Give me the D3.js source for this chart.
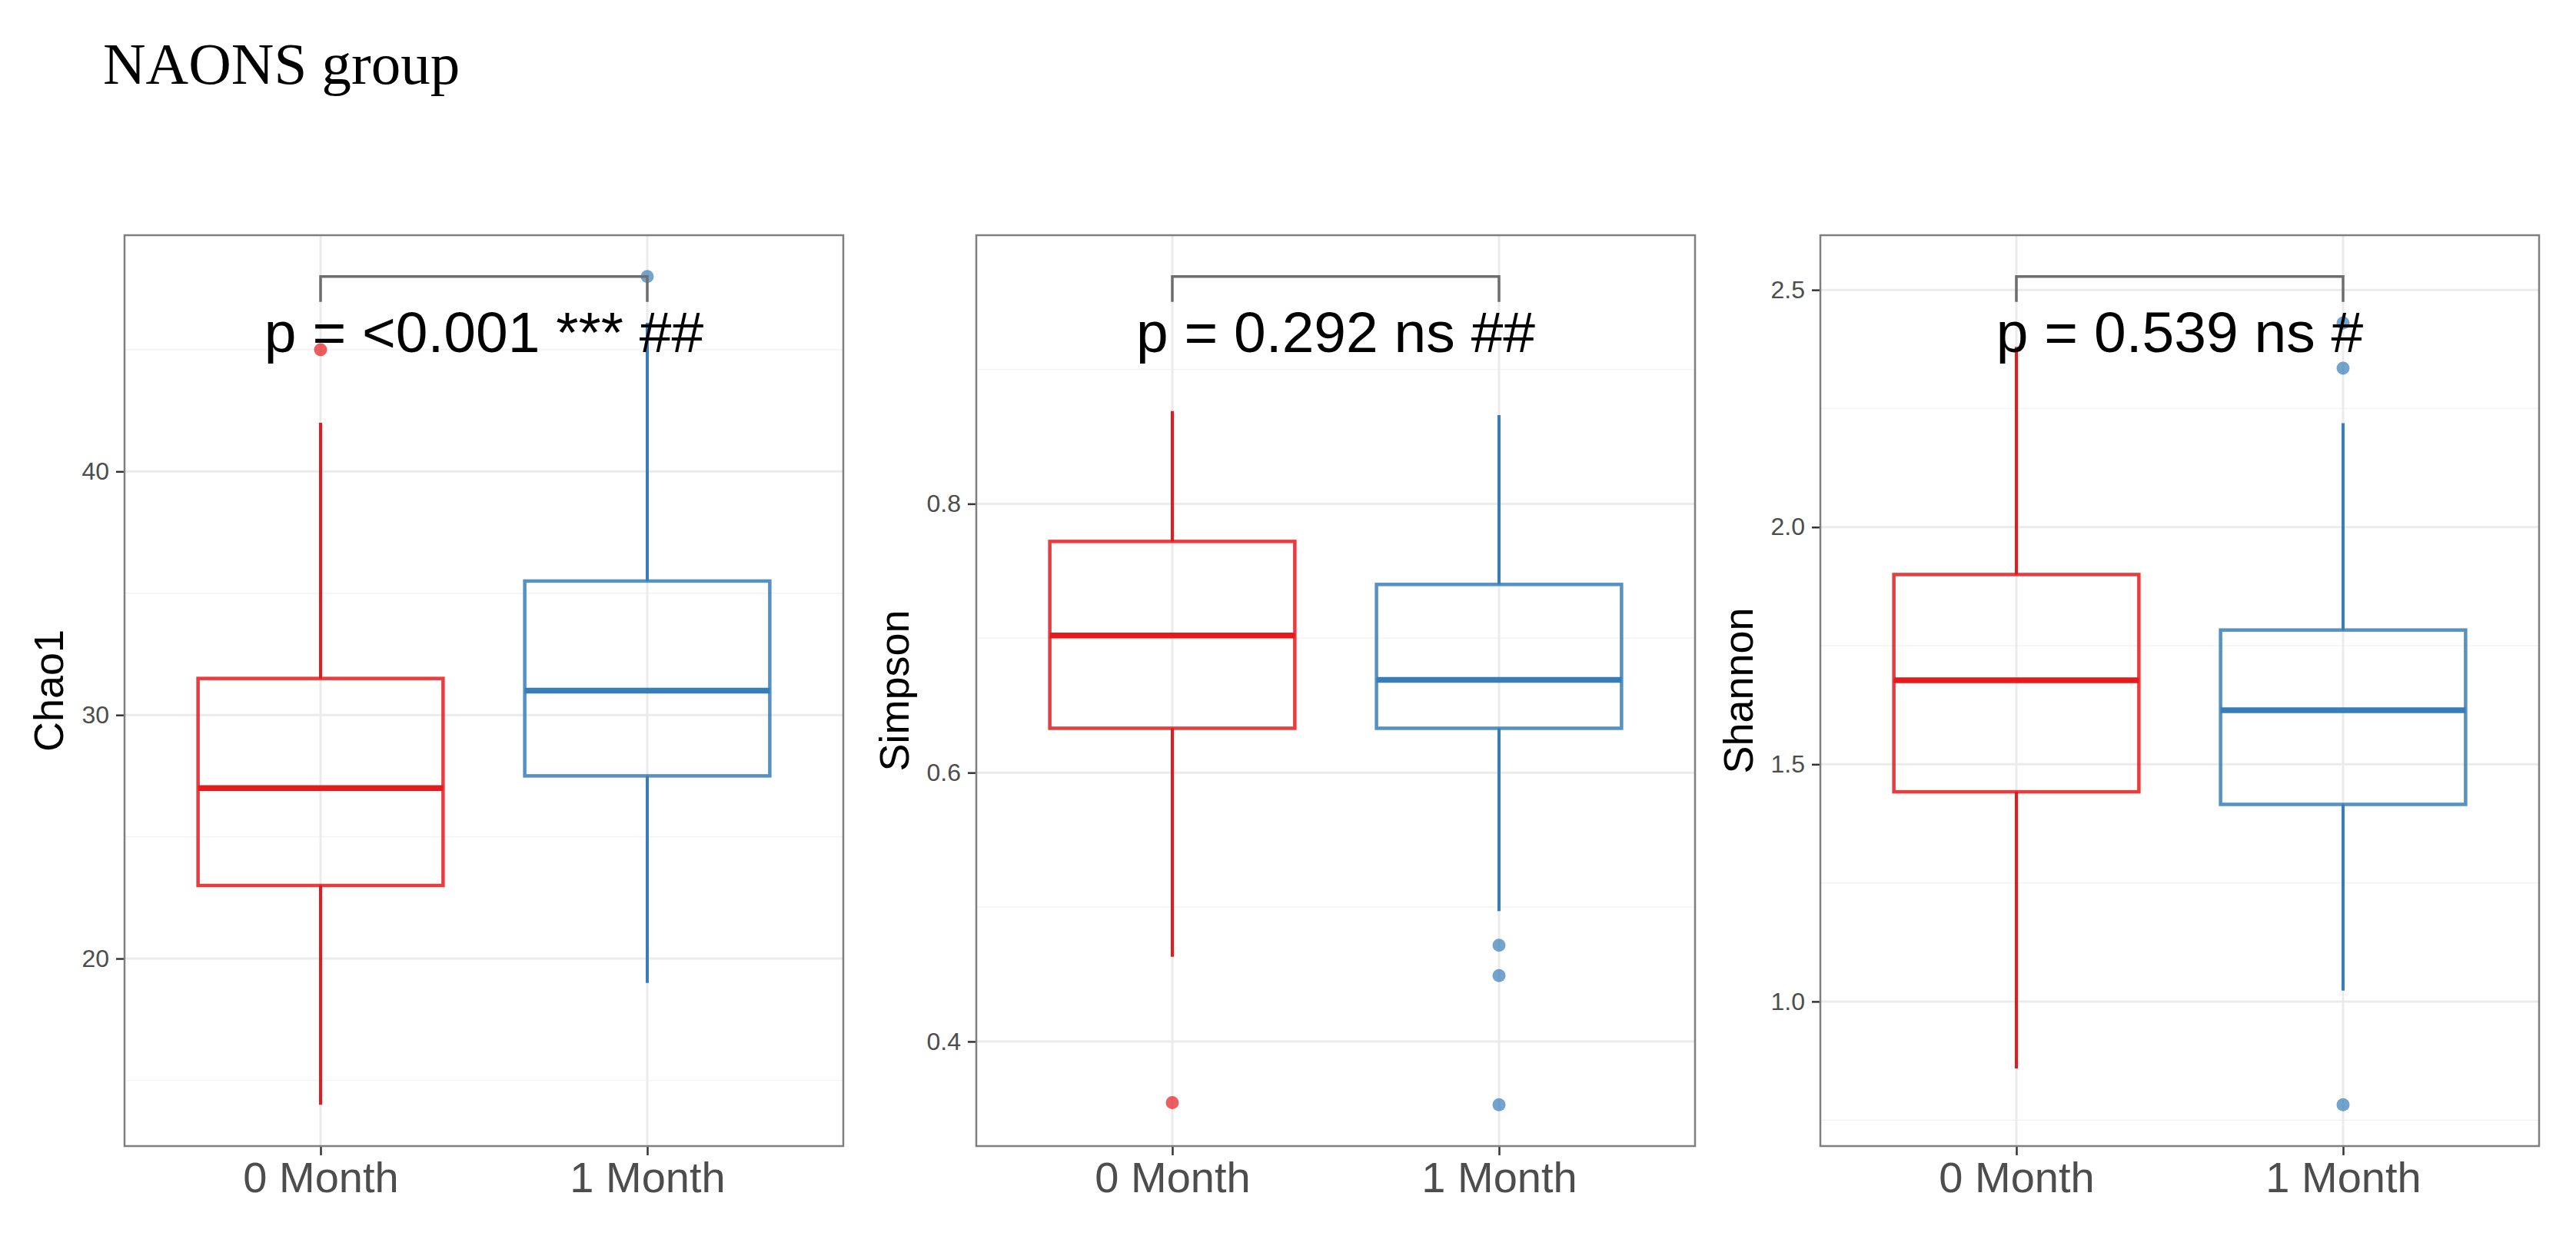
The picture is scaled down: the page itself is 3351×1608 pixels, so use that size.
<!DOCTYPE html>
<html>
<head>
<meta charset="utf-8">
<script src="https://cdn.jsdelivr.net/npm/d3@7"></script>
<style>
  body { margin: 0; background: #fff; }
  text { font-family: "Liberation Sans", Arial, Helvetica, sans-serif; }
</style>
</head>
<body>
<svg id="chart" width="3351" height="1608"></svg>
<script>
var groups = ["0 Month", "1 Month"];
var groupColors = ["#E41A1C", "#377EB8"];

// [lower whisker, Q1, median, Q3, upper whisker] per group
var chao1Stats = [[14, 23, 27, 31.5, 42], [19, 27.5, 31, 35.5, 46.1]];
var chao1Outliers = [[45], [48]];
var chao1Ticks = [20, 30, 40];
var chao1Minor = [15, 25, 35, 45];

var simpsonStats = [[0.463, 0.633, 0.702, 0.772, 0.869], [0.497, 0.633, 0.669, 0.740, 0.866]];
var simpsonOutliers = [[0.3545], [0.4716, 0.449, 0.353]];
var simpsonTicks = [0.4, 0.6, 0.8];
var simpsonMinor = [0.5, 0.7, 0.9];

var shannonStats = [[0.859, 1.442, 1.677, 1.90, 2.38], [1.023, 1.4155, 1.614, 1.783, 2.219]];
var shannonOutliers = [[], [2.43, 2.335, 0.7825]];
var shannonTicks = [1.0, 1.5, 2.0, 2.5];
var shannonMinor = [0.75, 1.25, 1.75, 2.25];

var yTitles = ["Chao1", "Simpson", "Shannon"];
var tickFormats = ["d", ".1f", ".1f"];
var bracketLevels = [48, 0.969, 2.528];
var pLabels = ["p = <0.001 *** ##", "p = 0.292 ns ##", "p = 0.539 ns #"];

var panels = [
  { stats: chao1Stats, outliers: chao1Outliers, ticks: chao1Ticks, minor: chao1Minor },
  { stats: simpsonStats, outliers: simpsonOutliers, ticks: simpsonTicks, minor: simpsonMinor },
  { stats: shannonStats, outliers: shannonOutliers, ticks: shannonTicks, minor: shannonMinor }
];

var panelLefts = [162, 1270, 2368]
  , panelTop = 306
  , panelW = 935
  , panelH = 1185;

var svg = d3.select("#chart");

svg.append("text")
  .attr("x", 134)
  .attr("y", 109)
  .style("font-family", "'Liberation Serif', 'DejaVu Serif', serif")
  .style("font-size", "77px")
  .attr("fill", "#000")
  .text("NAONS group");

panels.forEach(function(p, i) {
  var g = svg.append("g").attr("transform", "translate(" + panelLefts[i] + "," + panelTop + ")");

  var all = [bracketLevels[i]];
  p.stats.forEach(function(s) { all = all.concat(s); });
  p.outliers.forEach(function(o) { all = all.concat(o); });
  var lo = d3.min(all), hi = d3.max(all), pad = (hi - lo) * 0.05;

  var y = d3.scaleLinear().domain([lo - pad, hi + pad]).range([panelH, 0]);
  var x = d3.scalePoint().domain(groups).range([0, panelW]).padding(0.6);
  var bw = x.step() * 0.75;

  // grid
  g.selectAll(".minor").data(p.minor).enter().append("line")
    .attr("x1", 0).attr("x2", panelW)
    .attr("y1", function(d) { return y(d); }).attr("y2", function(d) { return y(d); })
    .attr("stroke", "#F3F3F3").attr("stroke-width", 1.6);
  g.selectAll(".major").data(p.ticks).enter().append("line")
    .attr("x1", 0).attr("x2", panelW)
    .attr("y1", function(d) { return y(d); }).attr("y2", function(d) { return y(d); })
    .attr("stroke", "#EBEBEB").attr("stroke-width", 3);
  g.selectAll(".vgrid").data(groups).enter().append("line")
    .attr("x1", function(d) { return x(d); }).attr("x2", function(d) { return x(d); })
    .attr("y1", 0).attr("y2", panelH)
    .attr("stroke", "#EBEBEB").attr("stroke-width", 3);

  // boxes
  groups.forEach(function(grp, k) {
    var s = p.stats[k], cx = x(grp), col = groupColors[k];
    var b = g.append("g").attr("stroke", col).attr("fill", "none");
    b.append("line").attr("x1", cx).attr("x2", cx).attr("y1", y(s[0])).attr("y2", y(s[1]))
      .attr("stroke-width", 4);
    b.append("line").attr("x1", cx).attr("x2", cx).attr("y1", y(s[3])).attr("y2", y(s[4]))
      .attr("stroke-width", 4);
    b.append("rect").attr("x", cx - bw / 2).attr("width", bw)
      .attr("y", y(s[3])).attr("height", y(s[1]) - y(s[3]))
      .attr("stroke-width", 4.5).attr("stroke-opacity", 0.85);
    b.append("line").attr("x1", cx - bw / 2).attr("x2", cx + bw / 2)
      .attr("y1", y(s[2])).attr("y2", y(s[2]))
      .attr("stroke-width", 7.5);
    g.selectAll(".out" + k).data(p.outliers[k]).enter().append("circle")
      .attr("cx", cx).attr("cy", function(d) { return y(d); }).attr("r", 8.5)
      .attr("fill", col).attr("fill-opacity", 0.7);
  });

  // bracket and p label
  var by = y(bracketLevels[i]), x0 = x(groups[0]), x1 = x(groups[1]);
  g.append("path")
    .attr("d", "M" + x0 + "," + (by + 33) + "V" + by + "H" + x1 + "V" + (by + 33))
    .attr("fill", "none").attr("stroke", "#6E6E6E").attr("stroke-width", 3.5);
  g.append("text")
    .attr("x", (x0 + x1) / 2).attr("y", by + 98)
    .attr("text-anchor", "middle")
    .style("font-size", "75px").attr("fill", "#000")
    .text(pLabels[i]);

  // axes
  var ya = g.append("g").call(d3.axisLeft(y).tickValues(p.ticks).tickFormat(d3.format(tickFormats[i]))
    .tickSize(11).tickPadding(9));
  ya.select(".domain").remove();
  ya.selectAll("line").attr("stroke", "#333").attr("stroke-width", 2.5);
  ya.selectAll("text").style("font-size", "32px").attr("fill", "#4D4D4D");

  var xa = g.append("g").attr("transform", "translate(0," + panelH + ")")
    .call(d3.axisBottom(x).tickSize(12).tickPadding(8));
  xa.select(".domain").remove();
  xa.selectAll("line").attr("stroke", "#333").attr("stroke-width", 2.5);
  xa.selectAll("text").style("font-size", "56px").attr("fill", "#4D4D4D");

  var labLeft = d3.min(ya.selectAll("text").nodes(), function(n) { return n.getBBox().x; });
  g.append("text")
    .attr("transform", "translate(" + (labLeft - 24) + "," + (panelH / 2) + ") rotate(-90)")
    .attr("text-anchor", "middle")
    .style("font-size", "54px").attr("fill", "#000")
    .text(yTitles[i]);

  g.append("rect")
    .attr("width", panelW).attr("height", panelH)
    .attr("fill", "none").attr("stroke", "#7F7F7F").attr("stroke-width", 2.5);
});
</script>
</body>
</html>
